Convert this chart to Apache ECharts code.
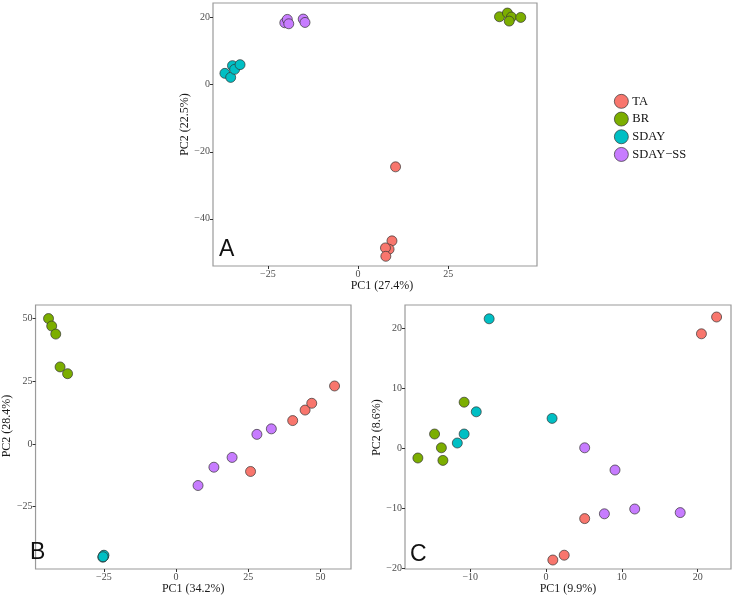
<!DOCTYPE html>
<html>
<head>
<meta charset="utf-8">
<script src="https://cdn.jsdelivr.net/npm/echarts@6/dist/echarts.min.js"></script>
<style>html,body{margin:0;padding:0;background:#fff}#c{width:733px;height:596px}</style>
</head>
<body>
<div id="c"></div>
<script>
const groups = ['TA', 'BR', 'SDAY', 'SDAY\u2212SS'];
const colors = ['#F8766D', '#7CAE00', '#00BFC4', '#C77CFF'];

// Panel A
const aTA = [[10.4, -24.5], [9.4, -46.6], [8.6, -49.1], [7.6, -48.7], [7.7, -51.2]];
const aBR = [[39.2, 20.3], [41.4, 21.4], [42.5, 20.2], [41.9, 19.0], [45.1, 20.1]];
const aSDAY = [[-36.9, 3.4], [-35.3, 2.2], [-34.8, 5.7], [-34.2, 4.6], [-32.7, 6.0]];
const aSDAYSS = [[-20.3, 18.5], [-19.6, 19.5], [-19.2, 18.2], [-15.2, 19.6], [-14.7, 18.6]];
// Panel B
const bTA = [[25.8, -11.0], [40.4, 9.3], [44.7, 13.5], [47.0, 16.2], [54.9, 23.1]];
const bBR = [[-44.2, 50.0], [-43.1, 47.0], [-41.7, 43.8], [-40.2, 30.7], [-37.6, 28.0]];
const bSDAY = [[-25.4, -45.2], [-25.1, -44.6], [-25.2, -44.9], [-25.0, -44.4], [-25.3, -45.0]];
const bSDAYSS = [[7.6, -16.6], [13.1, -9.3], [19.4, -5.4], [28.0, 3.8], [33.0, 6.0]];
// Panel C
const cTA = [[5.1, -11.7], [2.4, -17.8], [0.9, -18.6], [20.5, 19.1], [22.5, 21.9]];
const cBR = [[-10.8, 7.7], [-14.7, 2.4], [-13.8, 0.1], [-13.6, -2.0], [-16.9, -1.6]];
const cSDAY = [[-7.5, 21.6], [-9.2, 6.1], [-10.8, 2.4], [-11.7, 0.9], [0.8, 5.0]];
const cSDAYSS = [[5.1, 0.1], [9.1, -3.6], [7.7, -10.9], [11.7, -10.1], [17.7, -10.7]];

// Tick labels
const aXTicks = [-25, 0, 25];
const aYTicks = [-40, -20, 0, 20];
const bXTicks = [-25, 0, 25, 50];
const bYTicks = [-25, 0, 25, 50];
const cXTicks = [-10, 0, 10, 20];
const cYTicks = [-20, -10, 0, 10, 20];

const axisTitles = {
  a: ['PC1 (27.4%)', 'PC2 (22.5%)'],
  b: ['PC1 (34.2%)', 'PC2 (28.4%)'],
  c: ['PC1 (9.9%)', 'PC2 (8.6%)']
};
const panelLetters = ['A', 'B', 'C'];

const panelData = [
  [aTA, aBR, aSDAY, aSDAYSS],
  [bTA, bBR, bSDAY, bSDAYSS],
  [cTA, cBR, cSDAY, cSDAYSS]
];

const serif = 'Liberation Serif';
const fmt = v => (v < 0 ? '\u2212' + (-v) : String(v));

function makeAxis(idx, min, max, ticks, name, gap, namePad) {
  return {
    type: 'value', gridIndex: idx, min: min, max: max,
    name: name, nameLocation: 'middle', nameGap: gap,
    nameTextStyle: { fontFamily: serif, fontSize: 12, color: '#1a1a1a', padding: namePad },
    axisLine: { show: false, onZero: false },
    axisTick: { show: true, length: 3, customValues: ticks, lineStyle: { color: '#333', width: 1 } },
    axisLabel: { customValues: ticks, formatter: fmt, fontFamily: serif, fontSize: 10, color: '#4d4d4d', margin: 3 },
    splitLine: { show: false }
  };
}

const gridStyle = { show: true, borderColor: '#9a9a9a', borderWidth: 1.2, backgroundColor: '#fff', containLabel: false };

const series = [];
panelData.forEach((pd, p) => {
  pd.forEach((d, g) => {
    series.push({
      name: groups[g], type: 'scatter', xAxisIndex: p, yAxisIndex: p,
      data: d, symbolSize: 10,
      itemStyle: { color: colors[g], borderColor: '#333', borderWidth: 0.7, opacity: 1 },
      emphasis: { disabled: true }
    });
  });
});

const letterStyle = { fontFamily: 'Liberation Sans', fontSize: 23, fontWeight: 'normal', color: '#111' };

const option = {
  animation: false,
  backgroundColor: '#fff',
  grid: [
    Object.assign({ left: 213, top: 3, width: 324, height: 263 }, gridStyle),
    Object.assign({ left: 26, top: 305, width: 325, height: 264 }, gridStyle),
    Object.assign({ left: 405, top: 305, width: 326, height: 264 }, gridStyle)
  ],
  xAxis: [
    makeAxis(0, -40.2, 49.6, aXTicks, axisTitles.a[0], 14, [0, 0, 0, 14]),
    makeAxis(1, -48.7, 60.6, bXTicks, axisTitles.b[0], 12, 0),
    makeAxis(2, -18.6, 24.4, cXTicks, axisTitles.c[0], 14, 0)
  ],
  yAxis: [
    makeAxis(0, -54.1, 24.4, aYTicks, axisTitles.a[1], 20, [0, 0, 0, 20]),
    makeAxis(1, -49.9, 55.4, bYTicks, axisTitles.b[1], 14, [0, 0, 0, 22]),
    makeAxis(2, -20.1, 23.9, cYTicks, axisTitles.c[1], 8, [0, 0, 0, 19])
  ],
  title: [
    { text: panelLetters[0], left: 219, top: 238, padding: 0, textStyle: letterStyle },
    { text: panelLetters[1], left: 30, top: 541, padding: 0, textStyle: letterStyle },
    { text: panelLetters[2], left: 410, top: 543, padding: 0, textStyle: letterStyle }
  ],
  legend: {
    data: groups, orient: 'vertical', left: 614, top: 94, padding: 0,
    icon: 'circle', itemWidth: 14, itemHeight: 14, itemGap: 3,
    textStyle: { fontFamily: serif, fontSize: 12.5, color: '#111', padding: [0, 0, 0, -1] },
    itemStyle: { borderColor: '#333', borderWidth: 0.7 },
    selectedMode: false
  },
  series: series
};

const chart = echarts.init(document.getElementById('c'), null, { renderer: 'canvas' });
chart.setOption(option);
</script>
</body>
</html>
